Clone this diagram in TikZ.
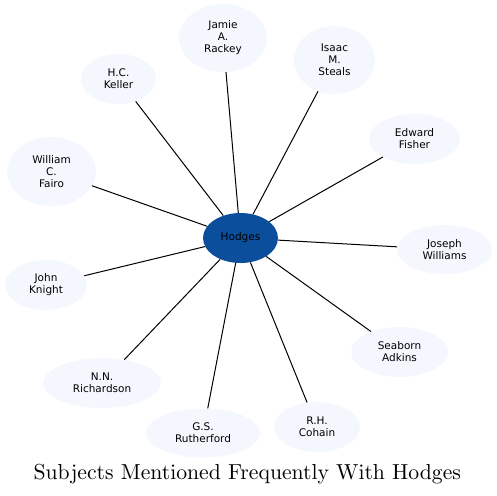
\documentclass[tikz,border=0pt]{standalone}
\usepackage{fontspec}
\setsansfont{DejaVu Sans}
\usetikzlibrary{shapes.geometric}
\definecolor{subjfill}{HTML}{F4F8FE}
\definecolor{hubblue}{HTML}{0B4F9C}
\font\titlefont=cmr10 at 21.7pt
\tikzset{
  subject/.style={ellipse,fill=subjfill,inner sep=0pt,align=center,
    font=\sffamily\fontsize{10.5}{12}\selectfont},
  hub/.style={subject,fill=hubblue},
  link/.style={line width=1pt}
}
\begin{document}
\begin{tikzpicture}[x=1pt,y=-1pt]
  \useasboundingbox (0,0) rectangle (497,495);

  \node[hub,minimum width=75pt,minimum height=50pt] (hodges) at (240.5,238) {Hodges};

  \foreach \nm/\x/\y/\w/\h/\txt in {
    rackey/223/38/88/68/{Jamie\\A.\\Rackey},
    steals/334.5/60/81/68/{Isaac\\M.\\Steals},
    keller/118.5/79/75/50/{H.C.\\Keller},
    fisher/414.5/139/91/50/{Edward\\Fisher},
    fairo/51.5/171.5/89/69/{William\\C.\\Fairo},
    williams/444.5/249.5/95/49/{Joseph\\Williams},
    knight/46/285/82/50/{John\\Knight},
    adkins/399.5/352/97/50/{Seaborn\\Adkins},
    richardson/102/383/118/50/{N.N.\\Richardson},
    rutherford/203/433/114/49/{G.S.\\Rutherford},
    cohain/317/427/86/50/{R.H.\\Cohain}}
  {
    \node[subject,minimum width=\w pt,minimum height=\h pt] (\nm) at (\x,\y) {\txt};
    \draw[link] (hodges) -- (\nm);
  }

  \node[anchor=base,inner sep=0pt] (title) at (247.5,479) {\titlefont Subjects Mentioned Frequently With Hodges};
\end{tikzpicture}
\end{document}
